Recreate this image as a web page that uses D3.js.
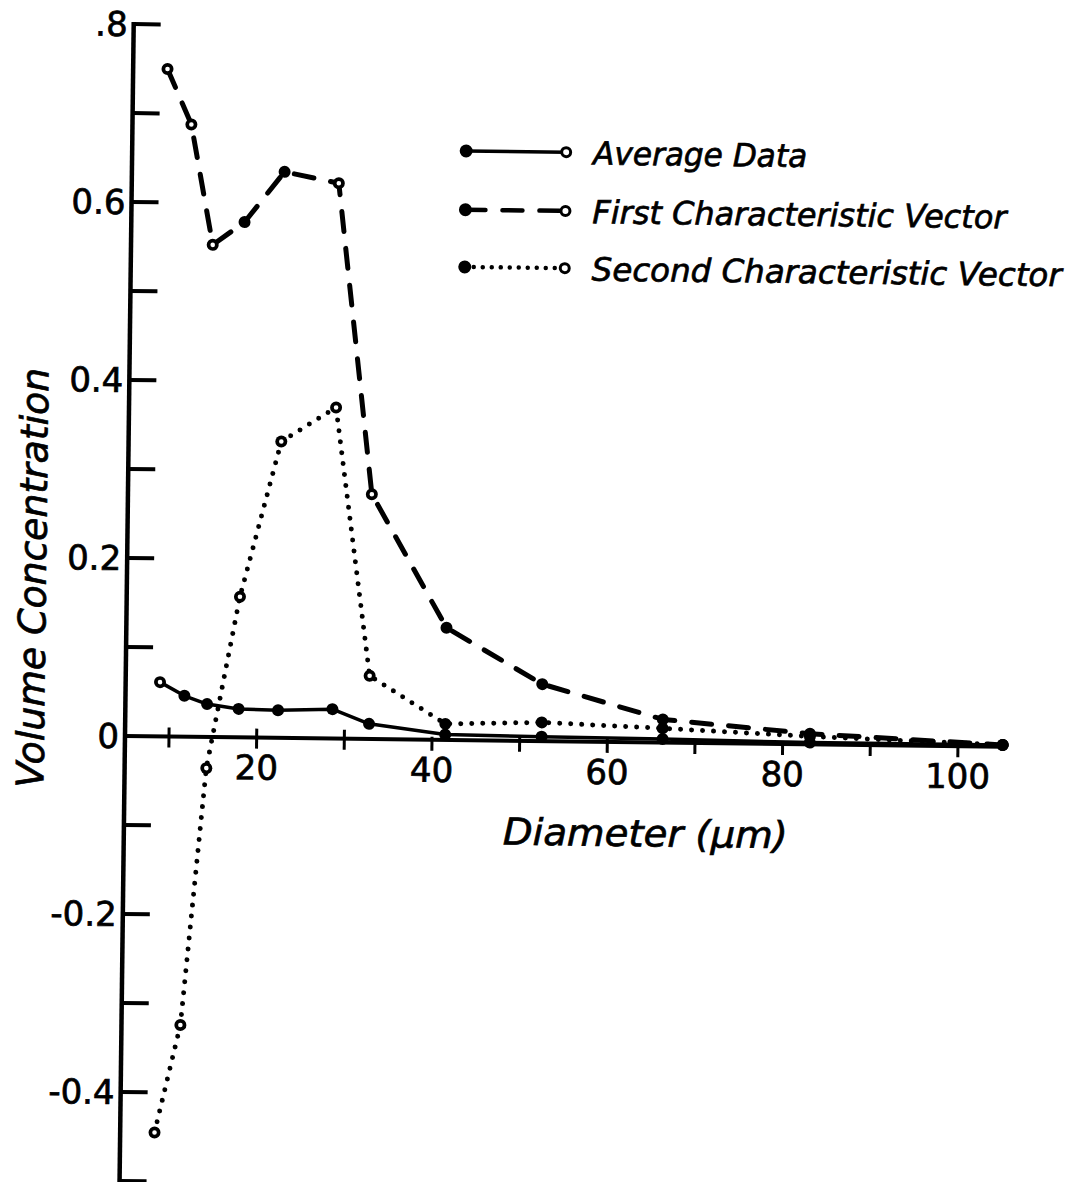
<!DOCTYPE html>
<html>
<head>
<meta charset="utf-8">
<script src="https://cdn.jsdelivr.net/npm/d3@7"></script>
<style>
  html, body { margin: 0; padding: 0; background: #fff; }
  svg { display: block; }
  text { font-family: "DejaVu Sans", sans-serif; fill: #000; stroke: #000; stroke-width: 0.7px; }
</style>
</head>
<body>
<svg id="chart" width="1066" height="1182"></svg>
<script>
// ---- data ----
const diameters     = [8.9, 11.7, 14.3, 17.9, 22.4, 28.6, 32.8, 41.5, 52.5, 66.3, 83.1, 105.1];
const averageData   = [0.061, 0.046, 0.037, 0.032, 0.031, 0.033, 0.017, 0.006, 0.005, 0.004, 0.002, 0.002];
const firstVector   = [0.750, 0.688, 0.553, 0.579, 0.636, 0.624, 0.275, 0.126, 0.064, 0.026, 0.012, 0.002];
const secondVector  = [-0.445, -0.324, -0.035, 0.158, 0.333, 0.372, 0.071, 0.018, 0.021, 0.016, 0.009, 0.002];
const averageOpen   = [1,0,0,0,0,0,0,0,0,0,0,0];
const firstOpen     = [1,1,1,0,0,1,1,0,0,0,0,0];
const secondOpen    = [1,1,1,1,1,1,1,0,0,0,0,0];
const seriesNames   = ["Average Data", "First Characteristic Vector", "Second Characteristic Vector"];
const xTickValues   = [10, 20, 30, 40, 50, 60, 70, 80, 90, 100];
const xLabelValues  = [20, 40, 60, 80, 100];
const yTickValues   = [0.8, 0.7, 0.6, 0.5, 0.4, 0.3, 0.2, 0.1, -0.1, -0.2, -0.3, -0.4, -0.5];
const yLabelValues  = [0.8, 0.6, 0.4, 0.2, 0, -0.2, -0.4];
const yLabelTexts   = [".8", "0.6", "0.4", "0.2", "0", "-0.2", "-0.4"];
const xTitle = "Diameter (\u03BCm)";
const yTitle = "Volume Concentration";

// ---- layout ----
const svg = d3.select("#chart");
const axisX = 125, axisY = 736;
const x = d3.scaleLinear().domain([10, 100]).range([169, 958]);
const y = d3.scaleLinear().domain([0, 0.8]).range([axisY, 24]);

// whole scan is slightly rotated
const g = svg.append("g").attr("transform", `rotate(0.7, ${axisX}, ${axisY})`);

// y axis
g.append("line").attr("x1", axisX).attr("x2", axisX).attr("y1", y(0.8) - 2).attr("y2", 1190)
  .attr("stroke", "#000").attr("stroke-width", 4.5);
g.selectAll(".ytick").data(yTickValues).enter().append("line")
  .attr("x1", axisX).attr("x2", axisX + 27)
  .attr("y1", d => y(d)).attr("y2", d => y(d))
  .attr("stroke", "#000").attr("stroke-width", 4);
g.selectAll(".ylab").data(yLabelValues).enter().append("text")
  .attr("x", axisX - 6).attr("y", d => y(d) + 12)
  .attr("text-anchor", "end").attr("font-size", 34)
  .text((d, i) => yLabelTexts[i]);

// x axis
g.append("line").attr("x1", axisX).attr("x2", x(diameters[diameters.length - 1]))
  .attr("y1", axisY).attr("y2", axisY)
  .attr("stroke", "#000").attr("stroke-width", 4);
g.selectAll(".xtick").data(xTickValues).enter().append("line")
  .attr("x1", d => x(d)).attr("x2", d => x(d))
  .attr("y1", d => d <= 30 ? axisY - 9 : axisY - 3).attr("y2", axisY + 11)
  .attr("stroke", "#000").attr("stroke-width", 3);
g.selectAll(".xlab").data(xLabelValues).enter().append("text")
  .attr("x", d => x(d)).attr("y", 778)
  .attr("text-anchor", "middle").attr("font-size", 34)
  .text(d => d);

// axis titles
g.append("text").attr("x", 504).attr("y", 840)
  .attr("font-size", 37).attr("font-style", "italic")
  .attr("textLength", 285).attr("lengthAdjust", "spacingAndGlyphs")
  .text(xTitle);
g.append("text")
  .attr("transform", "translate(44, 579) rotate(-90)")
  .attr("text-anchor", "middle")
  .attr("font-size", 38).attr("font-style", "italic")
  .attr("textLength", 420).attr("lengthAdjust", "spacingAndGlyphs")
  .text(yTitle);

// series
const series = [
  { vals: averageData,  open: averageOpen, dash: null,     width: 3.5 },
  { vals: firstVector,  open: firstOpen,   dash: "20,17",  width: 5 },
  { vals: secondVector, open: secondOpen,  dash: "0,11",   width: 5 }
];
const line = d3.line().x(d => x(d[0])).y(d => y(d[1]));

series.forEach(s => {
  const pts = diameters.map((d, i) => [d, s.vals[i], s.open[i]]);
  const p = g.append("path").datum(pts).attr("d", line)
    .attr("fill", "none").attr("stroke", "#000").attr("stroke-width", s.width)
    .attr("stroke-linecap", "round").attr("stroke-linejoin", "round");
  if (s.dash) p.attr("stroke-dasharray", s.dash);
  g.selectAll(null).data(pts).enter().append("circle")
    .attr("cx", d => x(d[0])).attr("cy", d => y(d[1])).attr("r", 6)
    .attr("fill", "#000");
  g.selectAll(null).data(pts.filter(d => d[2])).enter().append("circle")
    .attr("cx", d => x(d[0])).attr("cy", d => y(d[1])).attr("r", 2.3)
    .attr("fill", "#fff");
});

// legend
const legendRows = [146.8, 205.6, 262.8];
const legendX0 = 459, legendX1 = 559, legendTextX = 586;
const legendDash = [null, "20,17", "0,9"];
const legendLen = [214, 414, 470];
seriesNames.forEach((name, i) => {
  const yy = legendRows[i];
  const l = g.append("line").attr("x1", legendX0).attr("x2", legendX1)
    .attr("y1", yy).attr("y2", yy)
    .attr("stroke", "#000").attr("stroke-width", i === 0 ? 3.5 : 4.5)
    .attr("stroke-linecap", "round");
  if (legendDash[i]) l.attr("stroke-dasharray", legendDash[i]);
  g.append("circle").attr("cx", legendX0).attr("cy", yy).attr("r", 6.5).attr("fill", "#000");
  g.append("circle").attr("cx", legendX1).attr("cy", yy).attr("r", 4.5)
    .attr("fill", "#fff").attr("stroke", "#000").attr("stroke-width", 3);
  g.append("text").attr("x", legendTextX).attr("y", yy + 12)
    .attr("font-size", 32).attr("font-style", "italic")
    .attr("textLength", legendLen[i]).attr("lengthAdjust", "spacingAndGlyphs")
    .text(name);
});
</script>
</body>
</html>
